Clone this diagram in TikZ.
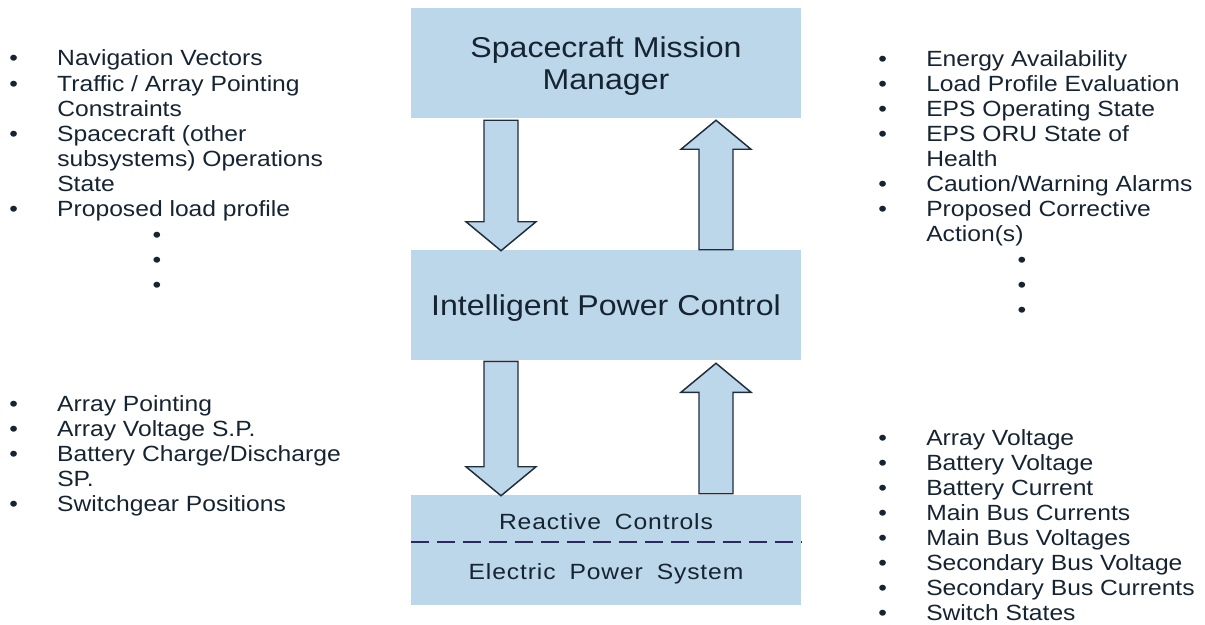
\documentclass[tikz,border=0pt]{standalone}
\usepackage{fontspec}
\setmainfont{Liberation Sans}[FakeStretch=1.12]
\newfontfamily\widefont{Liberation Sans}[FakeStretch=1.12, LetterSpace=4, WordSpace=1.8]
\usetikzlibrary{calc}
\definecolor{boxblue}{RGB}{188,214,234}
\definecolor{inknavy}{RGB}{22,36,50}
\definecolor{dashnavy}{RGB}{45,40,95}
\definecolor{edgenavy}{RGB}{30,45,60}

\tikzset{
  block/.style={fill=boxblue, minimum width=292.5pt, minimum height=82.5pt, inner sep=0pt,
    text depth=0pt, align=center, text=inknavy, font=\fontsize{21.5}{24}\selectfont},
  splittext/.style={text=inknavy, inner sep=0pt, font=\widefont\fontsize{16.5}{19}\selectfont},
  itemlist/.style={anchor=base west, inner sep=0pt, text=inknavy, font=\fontsize{16.5}{18.8}\selectfont},
  moredots/.style={inner sep=0pt, text=inknavy, font=\fontsize{16.5}{18.8}\selectfont},
  blockarrow/.style={fill=boxblue, draw=edgenavy, line width=1.1pt, line join=miter},
  splitline/.style={draw=dashnavy, line width=1.5pt, dash pattern=on 13.5pt off 6pt}
}

% block arrows: #1 = tail, #2 = tip
\newcommand{\blockdown}[2]{\draw[blockarrow] ($(#1)+(-17,0)$) -- ($(#2)+(-17,-29)$) -- ($(#2)+(-35,-29)$) -- (#2) -- ($(#2)+(35,-29)$) -- ($(#2)+(17,-29)$) -- ($(#1)+(17,0)$) -- cycle;}
\newcommand{\blockup}[2]{\draw[blockarrow] ($(#1)+(-17,0)$) -- ($(#2)+(-17,29)$) -- ($(#2)+(-35,29)$) -- (#2) -- ($(#2)+(35,29)$) -- ($(#2)+(17,29)$) -- ($(#1)+(17,0)$) -- cycle;}

\begin{document}
\begin{tikzpicture}[x=0.75pt, y=-0.75pt]
    \useasboundingbox (0,0) rectangle (1205,624);

    % the three levels
    \node[block] (mgr) at (606,63) {Spacecraft Mission\\Manager};
    \node[block] (ipc) at (606,305) {Intelligent Power Control};
    \node[block] (eps) at (606,550) {};
    \node[splittext] (rc) at ($(eps.center)+(0,-28)$) {Reactive Controls};
    \node[splittext] (ep) at ($(eps.center)+(0,24)$) {Electric Power System};
    \draw[splitline] ($(eps.west)+(0,-8)$) -- ($(eps.east)+(0,-8)$);

    % arrows between levels
    \coordinate (cmdtop) at ($(mgr.south)+(-105,2)$);
    \coordinate (cmdmid) at ($(ipc.north)+(-105,1)$);
    \coordinate (rpttail) at ($(ipc.north)+(110,0)$);
    \coordinate (rpttip) at ($(mgr.south)+(110,2)$);
    \coordinate (ctltop) at ($(ipc.south)+(-105,1)$);
    \coordinate (ctlbot) at ($(eps.north)+(-105,1)$);
    \coordinate (senstail) at ($(eps.north)+(110,-1)$);
    \coordinate (senstip) at ($(ipc.south)+(110,3)$);
    \blockdown{cmdtop}{cmdmid}
    \blockup{rpttail}{rpttip}
    \blockdown{ctltop}{ctlbot}
    \blockup{senstail}{senstip}

    % information lists
    \node[itemlist] (mgrin) at (9,66) {\begin{tabular}[t]{@{}p{36pt}@{}l@{}}
        \textbullet & Navigation Vectors\\
        \textbullet & Traffic / Array Pointing\\
                    & Constraints\\
        \textbullet & Spacecraft (other\\
                    & subsystems) Operations\\
                    & State\\
        \textbullet & Proposed load profile
    \end{tabular}};
    \node[itemlist] (mgrout) at (878,66.5) {\begin{tabular}[t]{@{}p{36pt}@{}l@{}}
        \textbullet & Energy Availability\\
        \textbullet & Load Profile Evaluation\\
        \textbullet & EPS Operating State\\
        \textbullet & EPS ORU State of\\
                    & Health\\
        \textbullet & Caution/Warning Alarms\\
        \textbullet & Proposed Corrective\\
                    & Action(s)
    \end{tabular}};
    \node[itemlist] (ctlout) at (9,411) {\begin{tabular}[t]{@{}p{36pt}@{}l@{}}
        \textbullet & Array Pointing\\
        \textbullet & Array Voltage S.P.\\
        \textbullet & Battery Charge/Discharge\\
                    & SP.\\
        \textbullet & Switchgear Positions
    \end{tabular}};
    \node[itemlist] (sensin) at (878,445) {\begin{tabular}[t]{@{}p{36pt}@{}l@{}}
        \textbullet & Array Voltage\\
        \textbullet & Battery Voltage\\
        \textbullet & Battery Current\\
        \textbullet & Main Bus Currents\\
        \textbullet & Main Bus Voltages\\
        \textbullet & Secondary Bus Voltage\\
        \textbullet & Secondary Bus Currents\\
        \textbullet & Switch States
    \end{tabular}};
    \foreach \y [count=\i] in {237,262,287}
        \node[moredots] (ldot\i) at (157,\y) {\textbullet};
    \foreach \y [count=\i] in {262.5,287.5,312.5}
        \node[moredots] (rdot\i) at (1022,\y) {\textbullet};
\end{tikzpicture}
\end{document}
